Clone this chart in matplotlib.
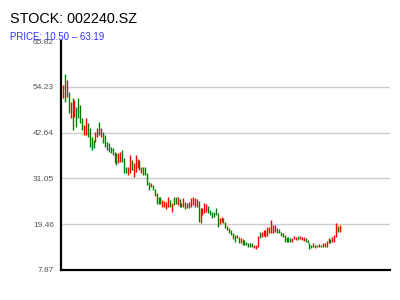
import numpy as np
import matplotlib
matplotlib.use("Agg")
import matplotlib.pyplot as plt

plt.rcParams["font.family"] = ["Liberation Sans", "DejaVu Sans"]

ticker = "002240.SZ"
price_min, price_max = 10.50, 63.19
y_ticks = [7.87, 19.46, 31.05, 42.64, 54.23, 65.82]

# daily candles (open / close)
opens = [51.41, 57.48, 51.66, 52.92, 46.34, 51.41, 46.60, 49.13, 51.41, 49.63,
         46.34, 42.04, 42.04, 45.08, 43.81, 41.54, 40.78, 40.27, 41.54, 45.33,
         41.54, 42.80, 42.04, 40.27, 40.02, 39.00, 38.75, 37.74, 37.49, 34.95,
         35.21, 38.24, 36.22, 33.94, 31.92, 32.42, 35.71, 31.41, 32.68, 33.69,
         35.71, 32.42, 33.94, 33.94, 32.42, 30.15, 28.88, 29.39, 28.37, 27.36,
         26.35, 26.35, 23.82, 23.82, 23.31, 23.82, 25.59, 22.55, 26.35, 26.35,
         24.32, 25.84, 23.82, 23.82, 25.08, 24.83, 23.57, 23.82, 24.32, 23.82,
         23.82, 25.34, 19.77, 21.79, 22.30, 22.55, 24.07, 23.06, 22.55, 22.55,
         23.57, 22.30, 19.52, 20.02, 21.03, 20.02, 19.01, 18.50, 18.00, 17.24,
         16.73, 15.97, 16.23, 14.71, 15.72, 15.47, 14.96, 14.71, 14.71, 14.71,
         13.44, 13.19, 13.69, 17.49, 16.23, 16.48, 16.23, 16.48, 17.24, 17.24,
         17.24, 17.49, 18.50, 18.25, 17.49, 17.24, 16.73, 16.23, 16.23, 15.97,
         14.96, 15.72, 15.47, 16.48, 15.72, 15.47, 15.21, 15.97, 15.47, 14.71,
         14.20, 13.69, 13.44, 14.20, 13.69, 14.20, 13.69, 13.69, 13.69, 14.71,
         15.72, 14.96, 14.96, 16.23, 19.01, 17.49]
closes = [54.70, 50.39, 55.96, 47.61, 50.39, 43.31, 50.90, 44.07, 46.34, 45.08,
          43.31, 44.57, 46.34, 41.54, 39.00, 38.24, 38.75, 42.80, 43.81, 42.04,
          43.81, 40.02, 39.00, 38.24, 37.74, 37.49, 36.98, 34.95, 34.45, 37.49,
          37.74, 35.21, 32.42, 32.42, 33.94, 36.98, 33.18, 34.95, 36.98, 35.97,
          33.18, 33.94, 31.92, 31.92, 29.39, 28.12, 29.89, 28.12, 26.60, 24.58,
          24.58, 24.58, 25.59, 25.34, 25.08, 26.35, 23.82, 24.83, 24.32, 24.58,
          26.35, 23.82, 24.83, 26.10, 23.31, 23.57, 25.08, 26.10, 26.35, 26.10,
          25.84, 20.02, 23.57, 23.57, 24.83, 24.58, 22.30, 21.79, 21.03, 21.29,
          21.79, 18.76, 21.03, 21.29, 19.77, 18.50, 18.00, 17.24, 16.73, 15.72,
          14.96, 16.73, 14.71, 15.97, 14.20, 14.20, 14.20, 13.69, 13.69, 13.69,
          14.20, 14.20, 16.48, 15.97, 17.49, 18.00, 18.00, 18.76, 18.76, 20.53,
          19.26, 19.26, 17.24, 17.24, 16.48, 16.23, 14.96, 14.96, 14.96, 14.96,
          15.97, 16.48, 16.23, 15.47, 16.48, 16.23, 16.23, 14.96, 14.71, 13.19,
          13.44, 14.71, 14.20, 13.69, 14.45, 13.69, 14.71, 14.71, 15.21, 15.97,
          14.71, 16.23, 16.73, 19.77, 17.49, 19.26]

opens = np.array(opens)
closes = np.array(closes)
days = np.arange(len(opens))
colors = np.where(closes >= opens, "#ff0000", "#008000")

fig = plt.figure(figsize=(4, 3), dpi=100)
ax = fig.add_axes([0.1525, 0.1, 0.8225, 0.7633])

for y in y_ticks[1:-1]:
    ax.axhline(y, color="#cccccc", linewidth=1.0, zorder=0)

ax.vlines(days, np.minimum(opens, closes), np.maximum(opens, closes),
          colors=colors, linewidth=1.0, zorder=2)

ppu = 277 / (len(days) - 1)
xmin = -2 / ppu
ax.set_xlim(xmin, xmin + 329 / ppu)
ax.set_ylim(y_ticks[0], y_ticks[-1])
ax.set_yticks(y_ticks)
ax.set_yticklabels([f"{v:.2f}" for v in y_ticks])
ax.set_xticks([])
ax.tick_params(axis="y", length=0, pad=5, labelsize=6, labelcolor="#555555")

for side in ["top", "right"]:
    ax.spines[side].set_visible(False)
for side in ["left", "bottom"]:
    ax.spines[side].set_linewidth(1.6)
    ax.spines[side].set_color("black")

fig.text(0.025, 0.937, f"STOCK: {ticker}", fontsize=10.4, va="center", ha="left")
fig.text(0.025, 0.877, f"PRICE: {price_min:.2f} \u2013 {price_max:.2f}",
         fontsize=7, color="#3333ff", va="center", ha="left")

fig.savefig("out.png", dpi=100)
